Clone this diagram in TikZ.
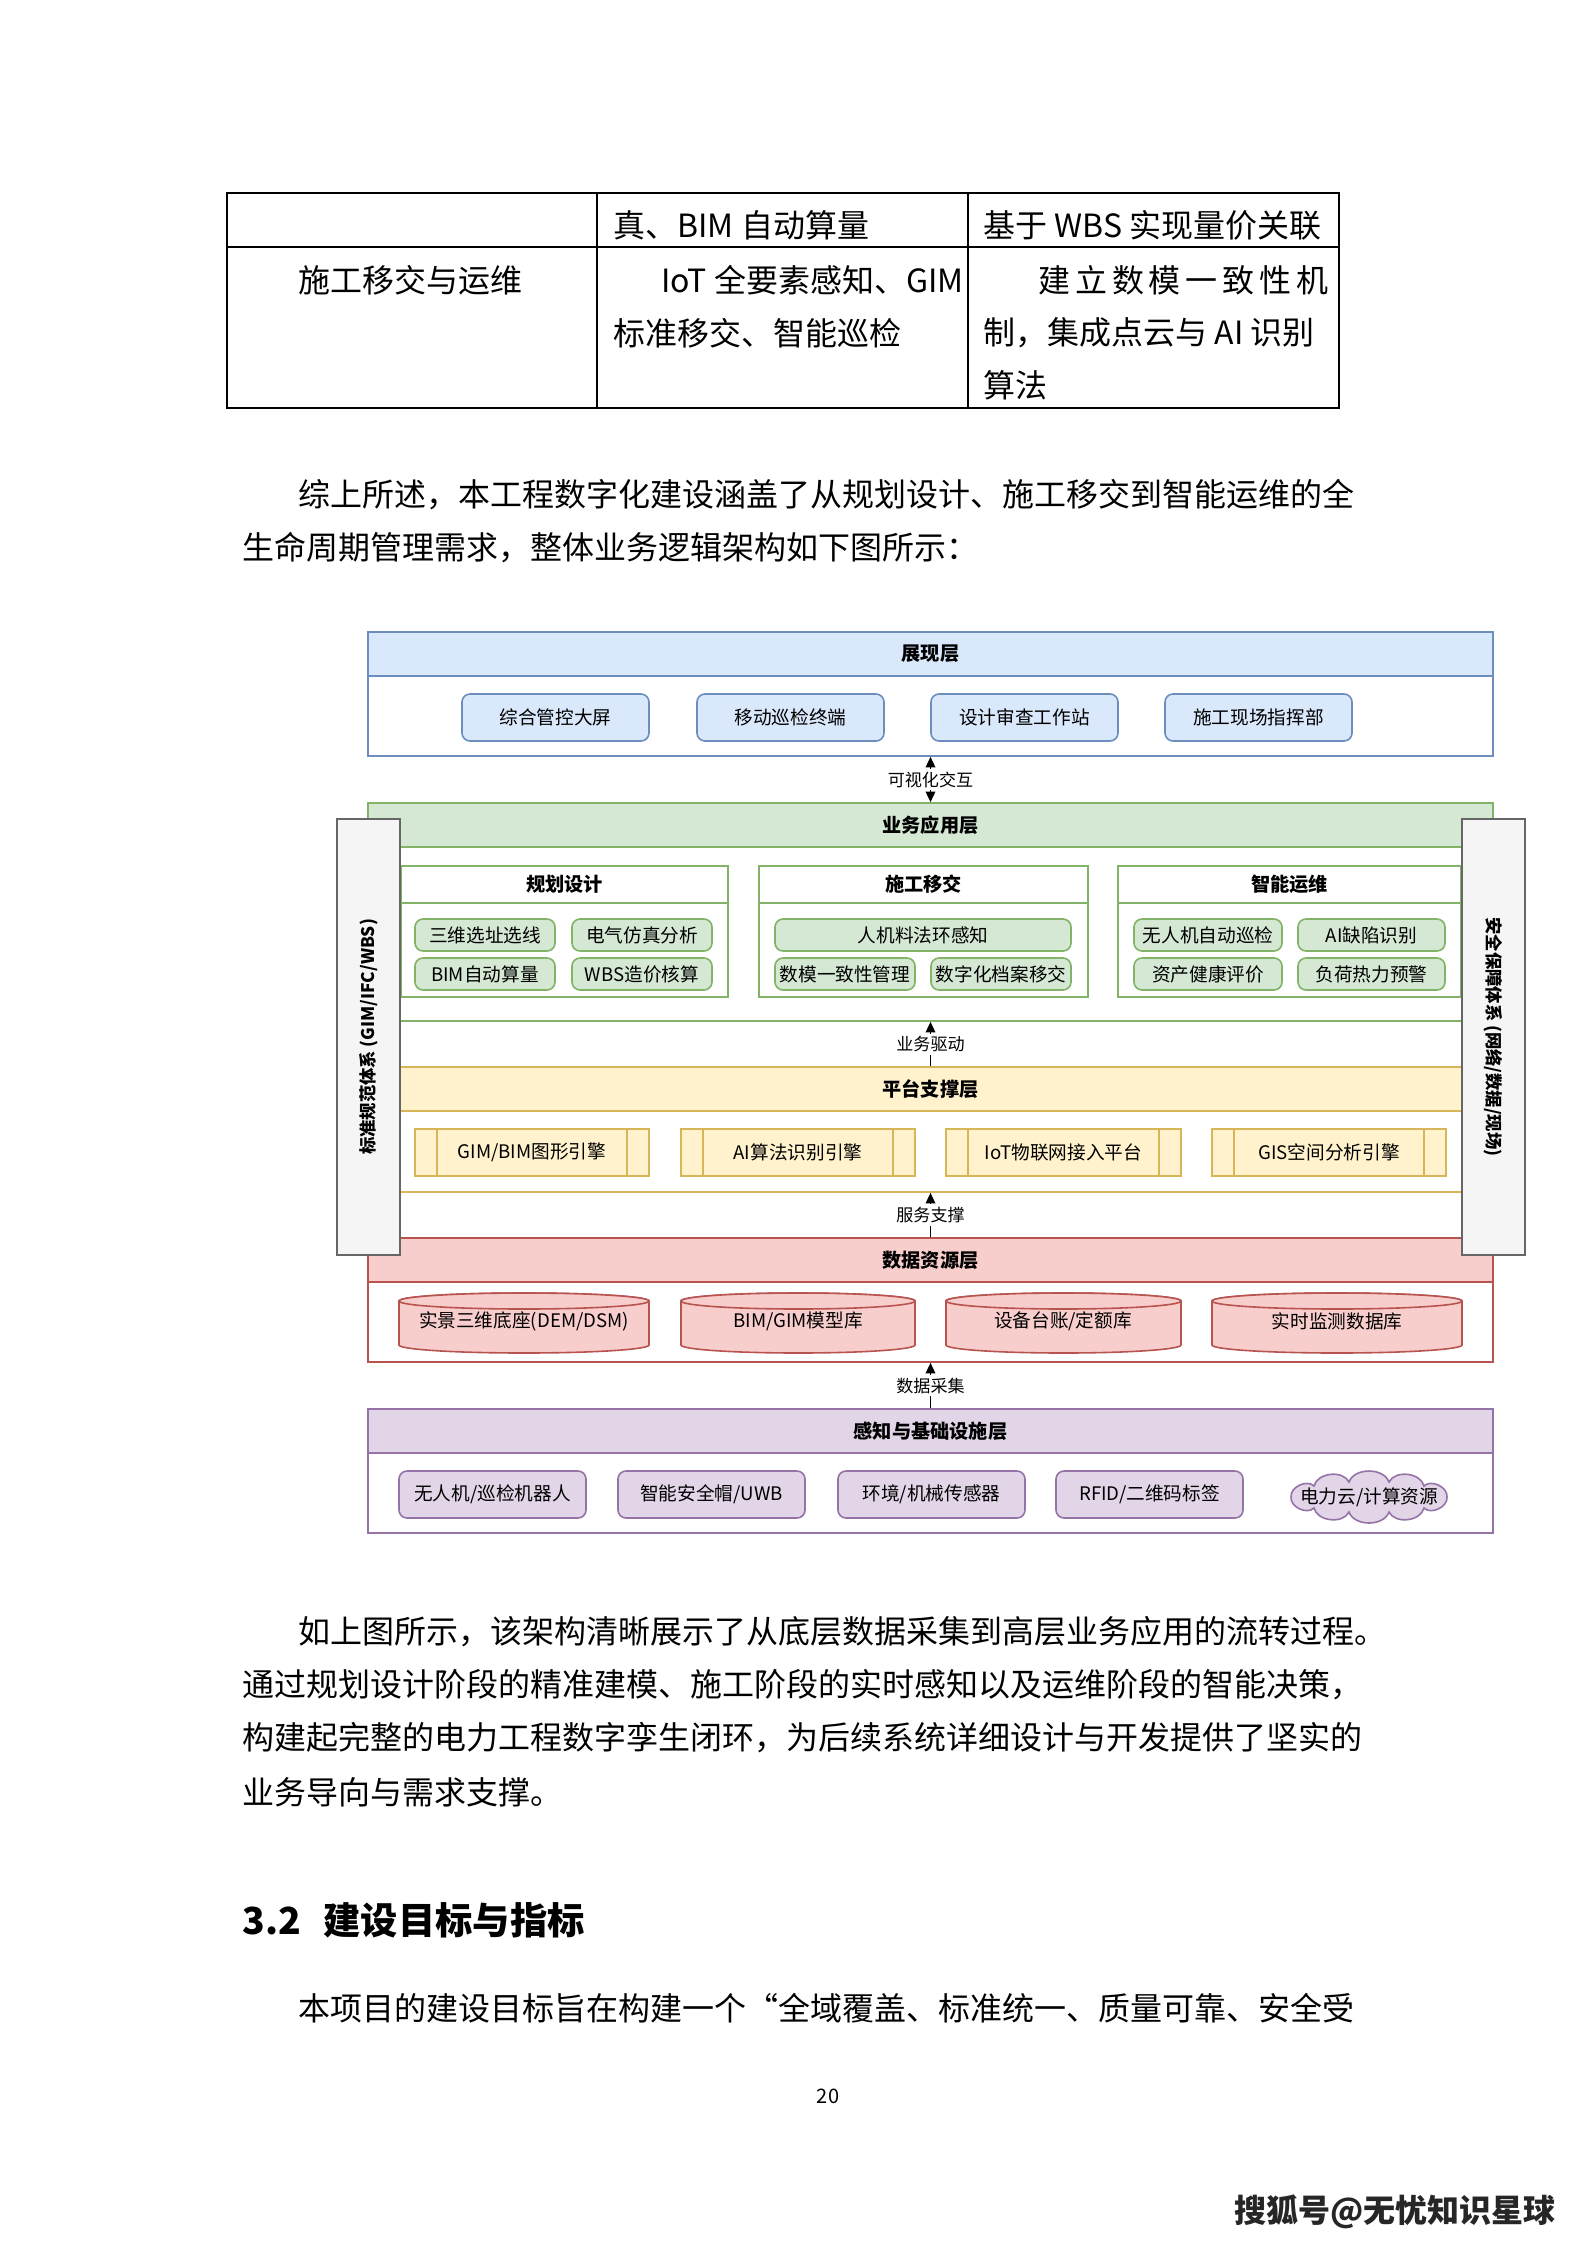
\documentclass[tikz,border=0pt]{standalone}
\usepackage{fontspec}
\setmainfont{Noto Sans CJK SC}
\usetikzlibrary{fit,arrows.meta}
\definecolor{blueF}{HTML}{DAE8FC}
\definecolor{blueD}{HTML}{6C8EBF}
\definecolor{greenF}{HTML}{D5E8D4}
\definecolor{greenD}{HTML}{82B366}
\definecolor{yellowF}{HTML}{FFF2CC}
\definecolor{yellowD}{HTML}{D6B656}
\definecolor{redF}{HTML}{F8CECC}
\definecolor{redD}{HTML}{B85450}
\definecolor{purpleF}{HTML}{E1D5E7}
\definecolor{purpleD}{HTML}{9673A6}
\definecolor{grayF}{HTML}{F5F5F5}
\definecolor{grayD}{HTML}{666666}
\tikzset{
    layer/.style={draw=#1, fill=white, line width=0.6pt, inner sep=0pt},
    head/.style 2 args={draw=#1, fill=#2, line width=0.6pt, inner sep=0pt},
    item/.style 2 args={draw=#1, fill=#2, rounded corners=3pt, line width=0.6pt, inner sep=0pt},
    proc/.style={draw=yellowD, fill=yellowF, line width=0.6pt, inner sep=0pt},
    panel/.style={draw=greenD, fill=white, line width=0.6pt, inner sep=0pt},
    side/.style={draw=grayD, fill=grayF, line width=0.6pt, inner sep=0pt},
    tx/.style={label={[font=\fontsize{7}{8}\selectfont, inner sep=0pt]center:#1}},
    htx/.style={label={[font=\fontsize{7.2}{8}\selectfont\bfseries, inner sep=0pt]center:#1}},
    sidetext/.style={font=\fontsize{6.5}{7}\selectfont\bfseries, inner sep=0pt},
    dbtext/.style={font=\fontsize{7}{8}\selectfont, inner sep=0pt},
    cyl/.style={draw=redD, fill=redF, line width=0.6pt},
    flow/.style={-{Triangle[length=4pt,width=3.6pt]}, line width=0.6pt},
    flowboth/.style={{Triangle[length=4pt,width=3.6pt]}-{Triangle[length=4pt,width=3.6pt]}, line width=0.6pt},
    flowlabel/.style={fill=white, inner sep=1pt, font=\fontsize{6.4}{7}\selectfont},
    body/.style={anchor=west, inner sep=0pt, font=\fontsize{12}{14}\selectfont},
    tab/.style={line width=0.6pt},
}
\begin{document}
\begin{tikzpicture}[x=0.3751pt, y=-0.3751pt]
\fill[white] (0,0) rectangle (1587,2245);
\useasboundingbox (0,0) rectangle (1587,2245);

% table
\draw[tab] (227,193) rectangle (1339,408);
\draw[tab] (597,193) -- (597,408) (968,193) -- (968,408) (227,247) -- (1339,247);
\node[body] (c12) at (613,225) {真、BIM 自动算量};
\node[body] (c13) at (983,225) {基于 WBS 实现量价关联};
\node[body] (c21) at (298,280) {施工移交与运维};
\node[body, anchor=east] (c22a) at (964,280) {IoT 全要素感知、GIM};
\node[body] (c22b) at (613,333) {标准移交、智能巡检};
\node[body] (c23a) at (1038,280) {\addfontfeature{LetterSpace=15}建立数模一致性机};
\node[body] (c23b) at (983,333) {制，集成点云与 AI 识别};
\node[body] (c23c) at (983,385) {算法};

\node[body] (p1) at (298,495) {综上所述，本工程数字化建设涵盖了从规划设计、施工移交到智能运维的全};
\node[body] (p2) at (242,548) {生命周期管理需求，整体业务逻辑架构如下图所示：};

% presentation layer
\node[layer=blueD, fit={(368,632)(1493,756)}] (show) {};
\node[head={blueD}{blueF}, fit={(368,632)(1493,676)}, htx=展现层] (showH) {};
\node[item={blueD}{blueF}, fit={(462,694)(649,741)}, tx=综合管控大屏] (scr) {};
\node[item={blueD}{blueF}, fit={(697,694)(884,741)}, tx=移动巡检终端] (mob) {};
\node[item={blueD}{blueF}, fit={(931,694)(1118,741)}, tx=设计审查工作站] (rev) {};
\node[item={blueD}{blueF}, fit={(1165,694)(1352,741)}, tx=施工现场指挥部] (cmd) {};

% application layer
\node[layer=greenD, fit={(368,803)(1493,1021)}] (app) {};
\node[head={greenD}{greenF}, fit={(368,803)(1493,847)}, htx=业务应用层] (appH) {};
\node[panel, fit={(401,866)(728,997)}] (plan) {};
\node[panel, fit={(401,866)(728,903)}, htx=规划设计] (planT) {};
\node[panel, fit={(759,866)(1088,997)}] (cons) {};
\node[panel, fit={(759,866)(1088,903)}, htx=施工移交] (consT) {};
\node[panel, fit={(1118,866)(1461,997)}] (oper) {};
\node[panel, fit={(1118,866)(1461,903)}, htx=智能运维] (operT) {};
\node[item={greenD}{greenF}, fit={(415,919)(555,951)}, tx=三维选址选线] (site) {};
\node[item={greenD}{greenF}, fit={(572,919)(712,951)}, tx=电气仿真分析] (elec) {};
\node[item={greenD}{greenF}, fit={(415,958)(555,990)}, tx=BIM自动算量] (qty) {};
\node[item={greenD}{greenF}, fit={(572,958)(712,990)}, tx=WBS造价核算] (cost) {};
\node[item={greenD}{greenF}, fit={(775,919)(1071,951)}, tx=人机料法环感知] (sense5) {};
\node[item={greenD}{greenF}, fit={(775,958)(915,990)}, tx=数模一致性管理] (cons1) {};
\node[item={greenD}{greenF}, fit={(931,958)(1071,990)}, tx=数字化档案移交] (arch) {};
\node[item={greenD}{greenF}, fit={(1134,919)(1282,951)}, tx=无人机自动巡检] (uav) {};
\node[item={greenD}{greenF}, fit={(1298,919)(1445,951)}, tx=AI缺陷识别] (defect) {};
\node[item={greenD}{greenF}, fit={(1134,958)(1282,990)}, tx=资产健康评价] (health) {};
\node[item={greenD}{greenF}, fit={(1298,958)(1445,990)}, tx=负荷热力预警] (load) {};

% platform layer
\node[layer=yellowD, fit={(368,1067)(1493,1192)}] (plat) {};
\node[head={yellowD}{yellowF}, fit={(368,1067)(1493,1111)}, htx=平台支撑层] (platH) {};
\node[proc, fit={(415,1129)(649,1176)}, tx=GIM/BIM图形引擎] (gim) {};
\node[proc, fit={(681,1129)(915,1176)}, tx=AI算法识别引擎] (ai) {};
\node[proc, fit={(946,1129)(1181,1176)}, tx=IoT物联网接入平台] (iot) {};
\node[proc, fit={(1212,1129)(1446,1176)}, tx=GIS空间分析引擎] (gis) {};
\foreach \n in {gim,ai,iot,gis}
    \draw[draw=yellowD, line width=0.6pt] ([xshift=8.6pt]\n.north west) -- ([xshift=8.6pt]\n.south west)
        ([xshift=-8.6pt]\n.north east) -- ([xshift=-8.6pt]\n.south east);

% data layer
\node[layer=redD, fit={(368,1238)(1493,1362)}] (data) {};
\node[head={redD}{redF}, fit={(368,1238)(1493,1282)}, htx=数据资源层] (dataH) {};
\foreach \a/\b in {399/649,681/915,946/1181,1212/1462}{
    \draw[cyl] (\a,1301) -- (\a,1345)
        arc[start angle=180, end angle=360, x radius={(\b-\a)/2*0.3751pt}, y radius=3pt]
        -- (\b,1301)
        arc[start angle=0, end angle=180, x radius={(\b-\a)/2*0.3751pt}, y radius=3pt] -- cycle;
    \draw[cyl] ({(\a+\b)/2},1301) ellipse[x radius={(\b-\a)/2*0.3751pt}, y radius=3pt];
}
\node[dbtext] (dem) at (524,1321) {实景三维底座(DEM/DSM)};
\node[dbtext] (model) at (798,1321) {BIM/GIM模型库};
\node[dbtext] (ledger) at (1063,1321) {设备台账/定额库};
\node[dbtext] (mon) at (1337,1321) {实时监测数据库};

% sensing layer
\node[layer=purpleD, fit={(368,1409)(1493,1533)}] (sense) {};
\node[head={purpleD}{purpleF}, fit={(368,1409)(1493,1453)}, htx=感知与基础设施层] (senseH) {};
\node[item={purpleD}{purpleF}, fit={(399,1471)(586,1518)}, tx=无人机/巡检机器人] (robot) {};
\node[item={purpleD}{purpleF}, fit={(618,1471)(805,1518)}, tx=智能安全帽/UWB] (helmet) {};
\node[item={purpleD}{purpleF}, fit={(838,1471)(1025,1518)}, tx=环境/机械传感器] (env) {};
\node[item={purpleD}{purpleF}, fit={(1056,1471)(1243,1518)}, tx=RFID/二维码标签] (rfid) {};
% cloud
\draw[draw=purpleD, fill=purpleF, line width=0.6pt] (1447,1497)
    to[bend right=70] (1424,1486) to[bend right=70] (1389,1482) to[bend right=70] (1349,1482)
    to[bend right=70] (1314,1486) to[bend right=70] (1291,1497) to[bend right=70] (1314,1508)
    to[bend right=70] (1349,1512) to[bend right=70] (1389,1512) to[bend right=70] (1424,1508)
    to[bend right=70] (1447,1497) -- cycle;
\node[dbtext] (cloudres) at (1369,1497) {电力云/计算资源};

% connectors between layers
\draw[flowboth] (show.south) -- node[flowlabel] {可视化交互} (app.north);
\draw[flow] (platH.north) -- node[flowlabel] {业务驱动} (app.south);
\draw[flow] (dataH.north) -- node[flowlabel] {服务支撑} (plat.south);
\draw[flow] (senseH.north) -- node[flowlabel] {数据采集} (data.south);

% side systems
\node[side, fit={(337,819)(400,1255)}] (std) {};
\node[sidetext, rotate=90] (stdT) at (std.center) {标准规范体系 (GIM/IFC/WBS)};
\node[side, fit={(1462,819)(1525,1255)}] (sec) {};
\node[sidetext, rotate=-90] (secT) at (sec.center) {安全保障体系 (网络/数据/现场)};

% text below
\node[body] (q1) at (298,1632) {如上图所示，该架构清晰展示了从底层数据采集到高层业务应用的流转过程。};
\node[body] (q2) at (242,1685) {通过规划设计阶段的精准建模、施工阶段的实时感知以及运维阶段的智能决策，};
\node[body] (q3) at (242,1738) {构建起完整的电力工程数字孪生闭环，为后续系统详细设计与开发提供了坚实的};
\node[body] (q4) at (242,1792) {业务导向与需求支撑。};
\node[body, font=\fontsize{14}{16}\selectfont\bfseries] (sec32) at (242,1920) {3.2\hspace{0.6em}建设目标与指标};
\node[body] (q5) at (298,2008) {本项目的建设目标旨在构建一个“全域覆盖、标准统一、质量可靠、安全受};
\node[inner sep=0pt, font=\fontsize{7.5}{9}\selectfont] (pgno) at (828,2096) {20};
\node[anchor=east, inner sep=0pt, text=black!85, font=\fontsize{12}{14}\selectfont\bfseries] (mark) at (1556,2212) {搜狐号@无忧知识星球};
\end{tikzpicture}
\end{document}
